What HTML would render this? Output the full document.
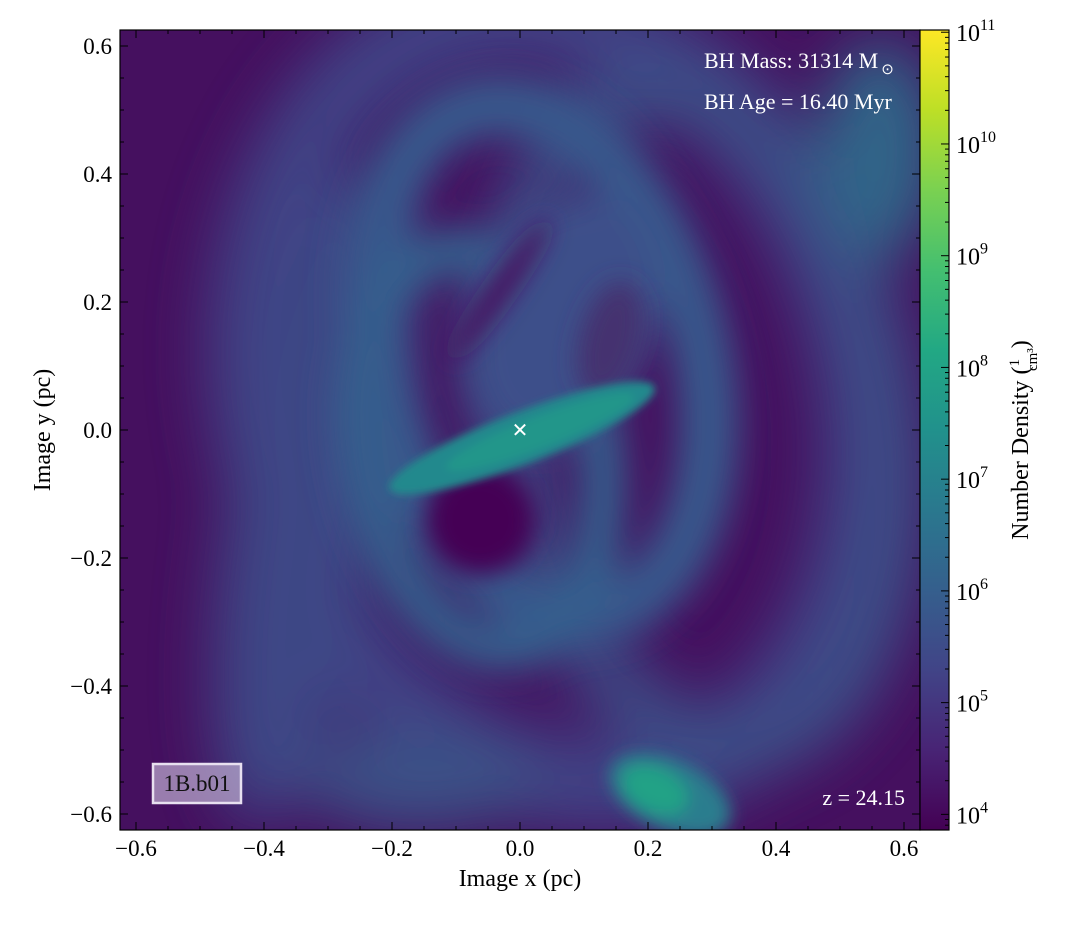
<!DOCTYPE html>
<html><head><meta charset="utf-8">
<style>
body{margin:0;background:#fff;}
svg text{font-family:"Liberation Serif",serif;}
</style></head>
<body>
<svg id="fig" width="1085" height="920" xmlns="http://www.w3.org/2000/svg">
<defs>
<filter id="b30" x="-50%" y="-50%" width="200%" height="200%"><feGaussianBlur stdDeviation="30"/></filter>
<filter id="b18" x="-50%" y="-50%" width="200%" height="200%"><feGaussianBlur stdDeviation="18"/></filter>
<filter id="b12" x="-50%" y="-50%" width="200%" height="200%"><feGaussianBlur stdDeviation="12"/></filter>
<filter id="b8" x="-50%" y="-50%" width="200%" height="200%"><feGaussianBlur stdDeviation="8"/></filter>
<filter id="b4" x="-50%" y="-50%" width="200%" height="200%"><feGaussianBlur stdDeviation="4"/></filter>
<clipPath id="clip"><rect x="120" y="30" width="800" height="800"/></clipPath>
<linearGradient id="viridis" x1="0" y1="1" x2="0" y2="0">
<stop offset="0" stop-color="#440154"/><stop offset="0.1" stop-color="#482475"/>
<stop offset="0.2" stop-color="#414487"/><stop offset="0.3" stop-color="#355f8d"/>
<stop offset="0.4" stop-color="#2a788e"/><stop offset="0.5" stop-color="#21918c"/>
<stop offset="0.6" stop-color="#22a884"/><stop offset="0.7" stop-color="#44bf70"/>
<stop offset="0.8" stop-color="#7ad151"/><stop offset="0.9" stop-color="#bddf26"/>
<stop offset="1" stop-color="#fde725"/>
</linearGradient>
</defs>

<g clip-path="url(#clip)">
<rect x="120" y="30" width="800" height="800" fill="#45105f"/>
<g filter="url(#b30)" opacity="0.9">
<ellipse cx="560" cy="400" rx="300" ry="390" transform="rotate(-15 560 400)" fill="none" stroke="#3f4a8a" stroke-width="90"/>
<ellipse cx="310" cy="500" rx="80" ry="330" transform="rotate(10 310 500)" fill="#3e4d8a"/>
<ellipse cx="700" cy="420" rx="190" ry="330" transform="rotate(-10 700 420)" fill="none" stroke="#3b568c" stroke-width="60"/>
<ellipse cx="880" cy="150" rx="60" ry="110" fill="#2f6e8d"/>
<ellipse cx="420" cy="780" rx="120" ry="50" fill="#3a588b"/>
</g>
<g filter="url(#b18)">
<ellipse cx="540" cy="360" rx="160" ry="260" transform="rotate(-15 540 360)" fill="none" stroke="#37598c" stroke-width="60"/>
<ellipse cx="480" cy="450" rx="120" ry="200" transform="rotate(-10 480 450)" fill="none" stroke="#365e8d" stroke-width="45"/>
<ellipse cx="560" cy="320" rx="90" ry="130" transform="rotate(20 560 320)" fill="#3c4f8a"/>
</g>
<g filter="url(#b12)">
<ellipse cx="500" cy="290" rx="12" ry="85" transform="rotate(35 500 290)" fill="#46195f"/>
<ellipse cx="480" cy="520" rx="55" ry="55" transform="rotate(-20 480 520)" fill="#440154"/>
<ellipse cx="610" cy="340" rx="30" ry="60" transform="rotate(15 610 340)" fill="#45306f"/>
</g>
<g filter="url(#b4)">
<ellipse cx="522" cy="438" rx="142" ry="26" transform="rotate(-21 522 438)" fill="#23898d"/>
<ellipse cx="540" cy="432" rx="100" ry="15" transform="rotate(-21 540 432)" fill="#21968a"/>
</g>
<g filter="url(#b8)">
<ellipse cx="670" cy="795" rx="65" ry="35" transform="rotate(25 670 795)" fill="#2a7d8e"/>
<ellipse cx="655" cy="790" rx="35" ry="22" transform="rotate(25 655 790)" fill="#22a286"/>
</g>
</g>

<g id="axes"></g>

<text x="520" y="437" fill="#fff" font-size="20" text-anchor="middle" font-family="Liberation Sans">✕</text>
<g clip-path="url(#clip)">
<text x="704" y="68" fill="#fff" font-size="22">BH Mass: 31314 M<tspan font-size="15" dy="6" dx="3">⊙</tspan></text>
<text x="704" y="109" fill="#fff" font-size="22">BH Age = 16.40 Myr</text>
</g>
<text x="905" y="805" fill="#fff" font-size="22" text-anchor="end">z = 24.15</text>
<rect x="153" y="764" width="88" height="39" fill="#c8b8d8" fill-opacity="0.65" stroke="#e8e0f0" stroke-width="2.5"/>
<text x="197" y="791" fill="#111" font-size="23" text-anchor="middle">1B.b01</text>

<rect x="920" y="30" width="29" height="800" fill="url(#viridis)"/>
<g id="cbar"></g>

<text x="520" y="886" font-size="24" text-anchor="middle">Image x  (pc)</text>
<text transform="translate(50 430) rotate(-90)" font-size="24" text-anchor="middle">Image y  (pc)</text>
<text transform="translate(1028 440) rotate(-90)" font-size="24" text-anchor="middle">Number Density  (<tspan font-size="15" dy="-9">1</tspan><tspan font-size="15" dy="18" dx="-12">cm³</tspan><tspan dy="-9">)</tspan></text>
</svg>
<script>
const xTicks=[-0.6,-0.4,-0.2,0.0,0.2,0.4,0.6];
const yTicks=[-0.6,-0.4,-0.2,0.0,0.2,0.4,0.6];
const cbarExps=[4,5,6,7,8,9,10,11];
const ext=0.625, L=120,T=30,S=800;
const sx=v=>L+(v+ext)/(2*ext)*S;
const sy=v=>T+(ext-v)/(2*ext)*S;
const cMin=3.86,cMax=11.02;
const cy=e=>T+(cMax-e)/(cMax-cMin)*S;
const NS="http://www.w3.org/2000/svg";
const ax=document.getElementById('axes');
function mk(tag,attrs,parent){const el=document.createElementNS(NS,tag);for(const k in attrs)el.setAttribute(k,attrs[k]);parent.appendChild(el);return el;}
const frame=mk('rect',{x:L,y:T,width:S,height:S,fill:'none',stroke:'#000','stroke-width':1.2},ax);


const fmt=v=>(v<0?'\u2212':'')+Math.abs(v).toFixed(1);
for(let i=-12;i<=12;i++){const v=i*0.05;const major=i%4===0;const len=major?8:4;
 const x=sx(v),y=sy(v);
 mk('line',{x1:x,y1:T+S,x2:x,y2:T+S-len,stroke:'#000'},ax);
 mk('line',{x1:x,y1:T,x2:x,y2:T+len,stroke:'#000'},ax);
 mk('line',{x1:L,y1:y,x2:L+len,y2:y,stroke:'#000'},ax);
 mk('line',{x1:L+S,y1:y,x2:L+S-len,y2:y,stroke:'#000'},ax);}
xTicks.forEach(v=>{const t=mk('text',{x:sx(v),y:856,'font-size':23,'text-anchor':'middle'},ax);t.textContent=fmt(v);
 
 });
yTicks.forEach(v=>{const t=mk('text',{x:112,y:sy(v)+8,'font-size':23,'text-anchor':'end'},ax);t.textContent=fmt(v);
 
 });
const cb=document.getElementById('cbar');
mk('rect',{x:920,y:30,width:29,height:800,fill:'none',stroke:'#000','stroke-width':1.2},cb);
for(let e=3;e<=11;e++){for(let m=1;m<10;m++){const le=e+Math.log10(m);if(le<cMin||le>cMax)continue;
 const y=cy(le);mk('line',{x1:949,y1:y,x2:m===1?941:945,y2:y,stroke:'#000'},cb);}}
cbarExps.forEach(e=>{const t=mk('text',{x:956,y:cy(e)+9,'font-size':24},cb);
 t.textContent='10';const s=mk('tspan',{'font-size':16,dy:-11},t);s.textContent=String(e);
 
 });
</script>
</body></html>
